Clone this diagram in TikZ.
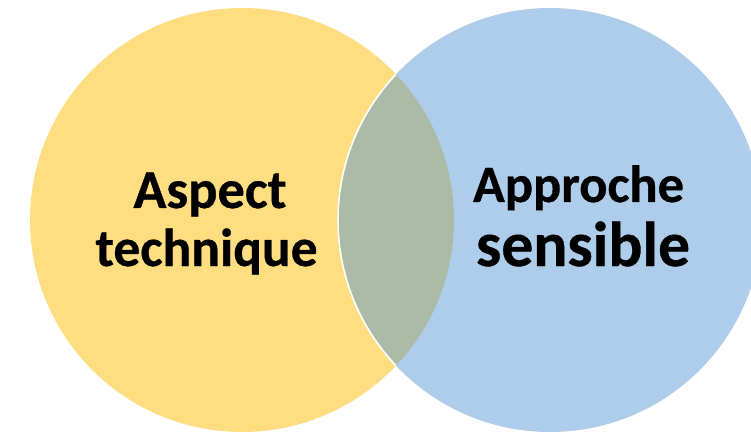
\documentclass[tikz,border=0pt]{standalone}
\usepackage{fontspec}
\setmainfont{Carlito}[BoldFeatures={FakeBold=0.6}]
\definecolor{techyellow}{RGB}{255,222,130}
\definecolor{sensblue}{RGB}{174,205,234}
\definecolor{overlapgreen}{RGB}{172,186,168}
\tikzset{
  venntext/.style={anchor=base, inner sep=0pt, text=black}
}
\begin{document}
\begin{tikzpicture}[x=1pt,y=-1pt]
  \useasboundingbox (0,0) rectangle (751,435);
  % the two sets
  \coordinate (ctech) at (242,220);
  \coordinate (csens) at (550,220);
  \fill[techyellow] (ctech) circle[radius=212pt];
  \fill[sensblue] (csens) circle[radius=212pt];
  % their intersection
  \begin{scope}
    \clip (ctech) circle[radius=212pt];
    \fill[overlapgreen] (csens) circle[radius=212pt];
    \draw[white, line width=1.6pt] (csens) circle[radius=212pt];
  \end{scope}
  % labels
  \node[venntext, font=\fontsize{54.5}{54}\selectfont\bfseries] (asp) at (210,208) {Aspect};
  \node[venntext, font=\fontsize{53.5}{54}\selectfont\bfseries] (tec) at (206.5,266) {technique};
  \node[venntext, font=\fontsize{52.5}{54}\selectfont\bfseries] (app) at (578.5,202) {Approche};
  \node[venntext, font=\fontsize{63.5}{64}\selectfont\bfseries] (sen) at (583,266) {sensible};
\end{tikzpicture}
\end{document}
